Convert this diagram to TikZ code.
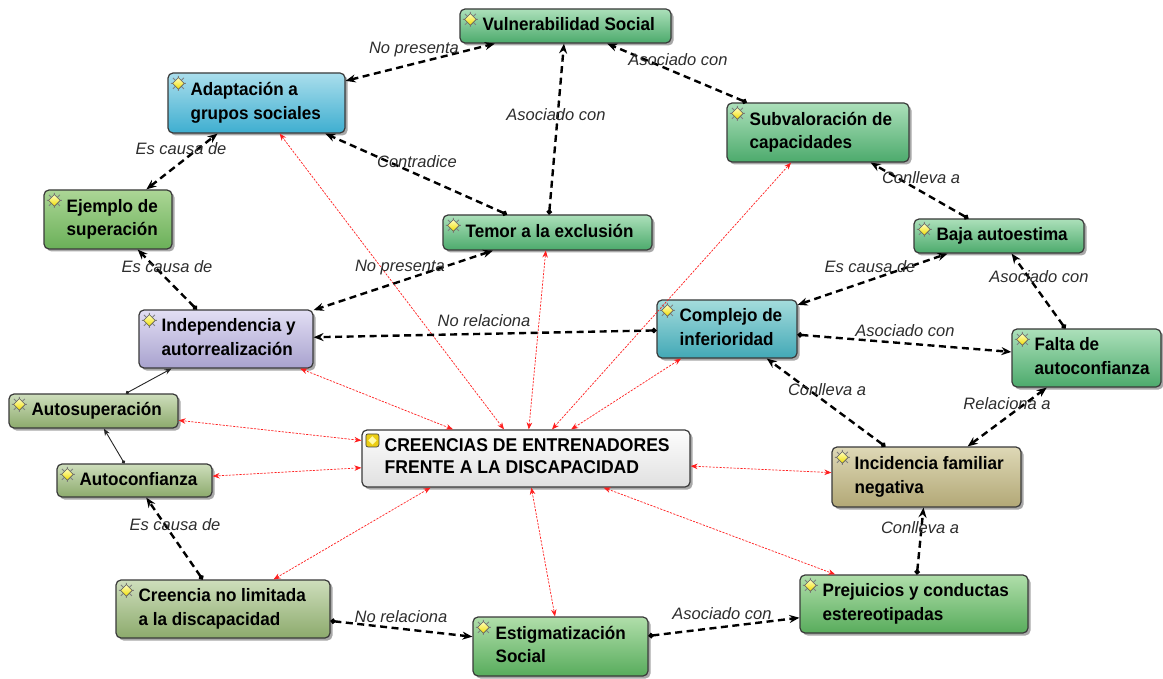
\documentclass[tikz,border=0pt]{standalone}
\usepackage{fontspec}
\newfontfamily\cfont{Liberation Sans}[FakeStretch=0.95]
\newfontfamily\lfont{Liberation Sans}
\usetikzlibrary{arrows.meta,shadows,calc}
\definecolor{bordc}{RGB}{58,58,58}
\definecolor{lblc}{RGB}{45,45,45}
\definecolor{redc}{RGB}{255,30,30}
\tikzset{
  cbox/.style={draw=bordc, line width=1.2pt, rounded corners=5pt, inner sep=0pt,
    drop shadow={shadow xshift=2.5pt, shadow yshift=-2.5pt, opacity=0.45, fill=black!75}},
  ctext/.style={font=\cfont\bfseries\fontsize{18}{23.5}\selectfont, inner sep=0pt, text=black},
  gvul/.style={top color={rgb,255:red,172;green,224;blue,186}, bottom color={rgb,255:red,76;green,170;blue,108}},
  gpre/.style={top color={rgb,255:red,176;green,222;blue,170}, bottom color={rgb,255:red,88;green,172;blue,92}},
  gejm/.style={top color={rgb,255:red,172;green,214;blue,150}, bottom color={rgb,255:red,106;green,176;blue,88}},
  goli/.style={top color={rgb,255:red,206;green,222;blue,188}, bottom color={rgb,255:red,140;green,170;blue,108}},
  glav/.style={top color={rgb,255:red,226;green,222;blue,244}, bottom color={rgb,255:red,168;green,162;blue,206}},
  gtea/.style={top color={rgb,255:red,164;green,220;blue,220}, bottom color={rgb,255:red,66;green,168;blue,182}},
  gblu/.style={top color={rgb,255:red,170;green,222;blue,236}, bottom color={rgb,255:red,62;green,174;blue,208}},
  gkha/.style={top color={rgb,255:red,222;green,216;blue,182}, bottom color={rgb,255:red,178;green,168;blue,118}},
  ggry/.style={top color={rgb,255:red,253;green,253;blue,253}, bottom color={rgb,255:red,224;green,224;blue,224}},
  lbl/.style={font=\lfont\itshape\fontsize{16.5}{18}\selectfont, text=lblc, inner sep=0pt},
  blk/.style={draw=black, line width=2.4pt, dash pattern=on 7pt off 4.5pt,
    {Circle[length=5pt]}-{Stealth[length=10pt,width=8pt]}},
  bb/.style={draw=black, line width=2.4pt, dash pattern=on 7pt off 4.5pt,
    {Stealth[length=10pt,width=8pt]}-{Stealth[length=10pt,width=8pt]}},
  thn/.style={draw=black!85, line width=0.9pt,
    {Circle[length=3.5pt]}-{Stealth[length=7pt,width=5.5pt]}},
  rd/.style={draw=redc, line width=0.7pt, dash pattern=on 2.2pt off 1.3pt,
    {Stealth[length=7pt,width=5.5pt]}-{Stealth[length=7pt,width=5.5pt]}},
  bug/.pic={
    \draw[black!50, line width=0.9pt] (-7.5,0)--(7.5,0) (0,-7.5)--(0,7.5)
      (-5.5,-5.5)--(5.5,5.5) (-5.5,5.5)--(5.5,-5.5);
    \fill[draw=black!60, line width=0.6pt, top color=yellow!25, bottom color={rgb,255:red,240;green,220;blue,0}]
      (0,5.8)--(5.8,0)--(0,-5.8)--(-5.8,0)--cycle;
  },
  ybox/.pic={
    \fill[draw=black!75, line width=0.7pt, rounded corners=2pt, fill={rgb,255:red,235;green,205;blue,20}]
      (-6.5,-6.5) rectangle (6.5,6.5);
    \fill[yellow!35] (0,4.2)--(4.2,0)--(0,-4.2)--(-4.2,0)--cycle;
  }
}
\newcommand\conc[7]{%
  \node[cbox,#2,minimum width={(#5)-(#3)},minimum height={(#6)-(#4)}] (#1)
    at ({((#3)+(#5))/2},{-((#4)+(#6))/2}) {};
  \node[ctext,anchor=west] (#1-t) at ([xshift=23pt]#1.west)
    {\begin{tabular}{@{}l@{}}#7\end{tabular}};
  \pic at ([xshift=11pt,yshift=-11pt]#1.north west) {bug};
}
\begin{document}
\begin{tikzpicture}[x=1pt,y=1pt]
\fill[white] (0,0) rectangle (1163,-679);
\useasboundingbox (0,0) rectangle (1163,-679);

\conc{vuln}{gvul}{460}{9}{671}{43}{Vulnerabilidad Social}
\conc{adapt}{gblu}{168}{73}{345}{133}{Adaptación a\\grupos sociales}
\conc{subval}{gvul}{727}{103}{909}{162}{Subvaloración de\\capacidades}
\conc{ejemplo}{gejm}{44}{190}{172}{249}{Ejemplo de\\superación}
\conc{temor}{gvul}{443}{215}{652}{250}{Temor a la exclusión}
\conc{baja}{gvul}{914}{219}{1084}{253}{Baja autoestima}
\conc{indep}{glav}{139}{310}{313}{368}{Independencia y\\autorrealización}
\conc{complejo}{gtea}{657}{300}{797}{358}{Complejo de\\inferioridad}
\conc{falta}{gvul}{1012}{329}{1161}{387}{Falta de\\autoconfianza}
\conc{autosup}{goli}{9}{394}{178}{428}{Autosuperación}
\conc{autoconf}{goli}{57}{464}{212}{497}{Autoconfianza}
\conc{incid}{gkha}{832}{447}{1021}{507}{Incidencia familiar\\negativa}
\conc{creencia}{goli}{116}{580}{330}{638}{Creencia no limitada\\a la discapacidad}
\conc{estig}{gpre}{473}{617}{648}{676}{Estigmatización\\Social}
\conc{prej}{gpre}{800}{575}{1028}{633}{Prejuicios y conductas\\estereotipadas}

% central concept
\node[cbox,ggry,minimum width=328pt,minimum height=57pt] (crees) at (526,-458.5) {};
\node[ctext,anchor=west,font=\cfont\bfseries\fontsize{18.5}{22}\selectfont] (crees-t) at ([xshift=23pt]crees.west)
  {\begin{tabular}{@{}l@{}}CREENCIAS DE ENTRENADORES\\FRENTE A LA DISCAPACIDAD\end{tabular}};
\pic at ([xshift=11pt,yshift=-11pt]crees.north west) {ybox};

% red dotted relations from the central concept
\foreach \n in {adapt,temor,subval,complejo,indep,autosup,autoconf,incid,estig,prej}
  \draw[rd] (crees) -- (\n);
\draw[rd] ($(crees.south west)!0.21!(crees.south east)$) -- (creencia);

% black dashed relations
\draw[bb]  (adapt) -- (vuln);
\draw[blk] (temor) -- (vuln);
\draw[blk] (subval) -- (vuln);
\draw[blk] (temor) -- (adapt);
\draw[blk] (baja) -- (subval);
\draw[bb]  (ejemplo) -- (adapt);
\draw[blk] (indep) -- (ejemplo);
\draw[bb]  (temor) -- (indep);
\draw[blk] (complejo) -- (indep);
\draw[bb]  (complejo) -- (baja);
\draw[blk] (falta) -- (baja);
\draw[blk] (complejo) -- (falta);
\draw[blk] (incid) -- (complejo);
\draw[bb]  (incid) -- (falta);
\draw[blk] (prej) -- (incid);
\draw[blk] (estig) -- (prej);
\draw[blk] (creencia) -- (estig);
\draw[blk] (creencia) -- (autoconf);
\draw[thn] (autoconf) -- (autosup);
\draw[thn] (autosup) -- (indep);

% linking phrases
\node[lbl] (l1)  at (414,-50)  {No presenta};
\node[lbl] (l2)  at (556,-115) {Asociado con};
\node[lbl] (l3)  at (678,-60)  {Asociado con};
\node[lbl] (l4)  at (417,-162) {Contradice};
\node[lbl] (l5)  at (181,-149) {Es causa de};
\node[lbl] (l6)  at (167,-267) {Es causa de};
\node[lbl] (l7)  at (400,-268) {No presenta};
\node[lbl] (l8)  at (484,-321) {No relaciona};
\node[lbl] (l9)  at (870,-267) {Es causa de};
\node[lbl] (l10) at (1039,-277) {Asociado con};
\node[lbl] (l11) at (905,-331) {Asociado con};
\node[lbl] (l12) at (921,-178) {Conlleva a};
\node[lbl] (l13) at (827,-390) {Conlleva a};
\node[lbl] (l14) at (1007,-404) {Relaciona a};
\node[lbl] (l15) at (920,-528) {Conlleva a};
\node[lbl] (l16) at (722,-614) {Asociado con};
\node[lbl] (l17) at (401,-617) {No relaciona};
\node[lbl] (l18) at (175,-525) {Es causa de};
\end{tikzpicture}
\end{document}
